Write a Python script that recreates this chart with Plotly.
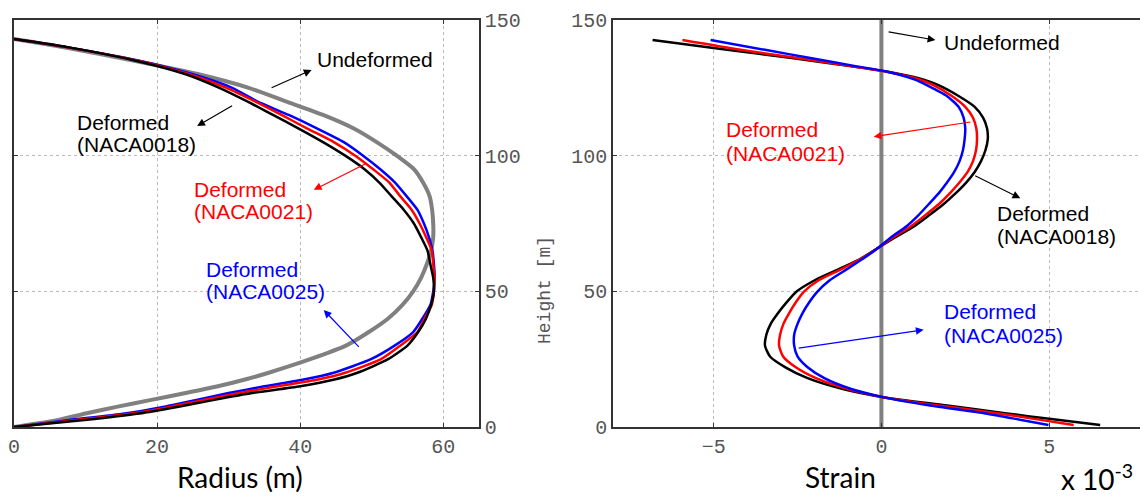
import plotly.graph_objects as go

# ---------------- Left panel: radius vs height ----------------
height_r = [0, 2.5, 5, 7.5, 10, 12.5, 15, 17.5, 20, 25, 30, 35, 40, 45, 50, 55, 60, 65,
            70, 75, 80, 85, 90, 95, 100, 105, 110, 115, 120, 125, 130, 135, 140, 143]
radius_undeformed = [0, 6.0, 10.0, 14.5, 19.2, 24.0, 28.5, 32.3, 35.6, 41.4, 46.4, 49.6, 52.3,
                     54.3, 55.8, 56.9, 57.7, 58.3, 58.6, 58.6, 58.45, 58.1, 57.2, 55.9, 53.5,
                     50.7, 47.5, 43.2, 38.0, 32.8, 25.8, 16.8, 6.8, 0]
radius_naca0018 = [0, 9.5, 17.5, 23.0, 28.0, 33.3, 40.0, 44.8, 48.0, 52.3, 55.0, 56.5, 57.6,
                   58.3, 58.7, 58.6, 58.2, 57.8, 56.9, 55.9, 54.5, 52.8, 51.1, 49.0, 46.3,
                   43.2, 39.8, 36.2, 32.6, 28.7, 24.0, 17.0, 7.5, 0]
radius_naca0021 = [0, 8.5, 16.5, 22.0, 26.5, 31.5, 36.8, 42.5, 46.3, 51.3, 54.0, 56.4, 57.4,
                   58.4, 58.7, 58.8, 58.6, 58.4, 57.6, 56.7, 55.6, 54.0, 52.5, 50.2, 47.7,
                   44.7, 41.0, 37.4, 33.7, 29.7, 24.5, 17.3, 7.3, 0]
radius_naca0025 = [0, 7.5, 15.5, 21.0, 25.5, 30.0, 35.0, 40.5, 44.7, 49.9, 53.2, 55.8, 57.1,
                   58.2, 58.6, 58.8, 58.7, 58.5, 58.0, 57.3, 56.4, 54.9, 53.3, 51.2, 48.8,
                   46.1, 42.4, 38.4, 34.0, 30.5, 25.0, 17.5, 7.3, 0]

# ---------------- Right panel: strain (x 10^-3) vs height ----------------
height_s = [0.7, 3, 5, 8, 11, 14, 18, 22, 26, 30, 34, 38, 42, 46, 50, 54, 58, 62, 66, 70,
            74, 78, 82, 86, 90, 94, 98, 102, 106, 110, 114, 118, 122, 126, 128, 131, 133,
            136, 139, 142.6]
strain_naca0018 = [6.52, 5.0, 3.74, 1.9, 0.05, -1.15, -2.2, -2.86, -3.32, -3.47, -3.43, -3.3,
                   -3.08, -2.82, -2.52, -2.0, -1.3, -0.62, -0.1, 0.42, 0.98, 1.42, 1.84, 2.2,
                   2.52, 2.78, 2.97, 3.1, 3.17, 3.15, 3.03, 2.78, 2.3, 1.7, 1.26, 0.15, -0.94,
                   -2.67, -4.6, -6.82]
strain_naca0021 = [5.73, 4.55, 3.5, 1.65, 0.05, -1.0, -1.95, -2.55, -2.93, -3.05, -3.02, -2.92,
                   -2.75, -2.55, -2.3, -1.88, -1.22, -0.6, -0.1, 0.37, 0.88, 1.3, 1.7, 2.03,
                   2.32, 2.57, 2.73, 2.82, 2.85, 2.83, 2.73, 2.5, 2.1, 1.55, 1.15, 0.12, -0.9,
                   -2.5, -4.2, -5.93]
strain_naca0025 = [4.98, 4.0, 3.1, 1.4, 0.05, -0.9, -1.7, -2.2, -2.5, -2.6, -2.6, -2.5,
                   -2.35, -2.15, -1.9, -1.55, -1.05, -0.55, -0.1, 0.3, 0.75, 1.1, 1.4, 1.7,
                   1.95, 2.17, 2.33, 2.43, 2.48, 2.5, 2.45, 2.3, 1.95, 1.35, 1.0, 0.15, -0.77,
                   -2.12, -3.47, -5.09]
strain_undeformed = [0, 0]
height_undeformed = [0, 150]

radius_ticks = [0, 20, 40, 60]
strain_ticks = [-5, 0, 5]
height_ticks = [0, 50, 100, 150]

BLACK, RED, BLUE, GRAY = "#000000", "#ff0000", "#0000ff", "#808080"


def spline(color, width):
    return dict(color=color, width=width, shape="spline", smoothing=0.6)


fig = go.Figure()
fig.add_trace(go.Scatter(x=radius_undeformed, y=height_r, mode="lines",
                         line=spline(GRAY, 4), xaxis="x", yaxis="y"))
fig.add_trace(go.Scatter(x=radius_naca0025, y=height_r, mode="lines",
                         line=spline(BLUE, 2.5), xaxis="x", yaxis="y"))
fig.add_trace(go.Scatter(x=radius_naca0021, y=height_r, mode="lines",
                         line=spline(RED, 2.5), xaxis="x", yaxis="y"))
fig.add_trace(go.Scatter(x=radius_naca0018, y=height_r, mode="lines",
                         line=spline(BLACK, 2.5), xaxis="x", yaxis="y"))

fig.add_trace(go.Scatter(x=strain_undeformed, y=height_undeformed, mode="lines",
                         line=dict(color=GRAY, width=4), xaxis="x2", yaxis="y2"))
fig.add_trace(go.Scatter(x=strain_naca0018, y=height_s, mode="lines",
                         line=spline(BLACK, 2.5), xaxis="x2", yaxis="y2"))
fig.add_trace(go.Scatter(x=strain_naca0021, y=height_s, mode="lines",
                         line=spline(RED, 2.5), xaxis="x2", yaxis="y2"))
fig.add_trace(go.Scatter(x=strain_naca0025, y=height_s, mode="lines",
                         line=spline(BLUE, 2.5), xaxis="x2", yaxis="y2"))

tick_font = dict(family="Liberation Mono, Courier New, monospace", size=20, color="#555555")
axis_common = dict(showline=True, linecolor="#333333", linewidth=1.5, ticks="inside",
                   ticklen=4, tickcolor="#333333", showgrid=True, gridcolor="#bbbbbb",
                   griddash="dot", gridwidth=1, zeroline=False, tickfont=tick_font,
                   automargin=False, ticklabeloverflow="allow")

# The page body adds an 8 px offset; the figure is sized so that the
# screen position (sx, sy) maps to paper position (sx - 8, sy - 8).
OFF = 8
W, H = 1148 - OFF, 498 - OFF


def px(sx):
    return (sx - OFF) / W


def py(sy):
    return (H - (sy - OFF)) / H


fig.update_layout(
    width=W, height=H, margin=dict(l=0, r=0, t=0, b=0, autoexpand=False),
    paper_bgcolor="white", plot_bgcolor="white", showlegend=False,
    xaxis=dict(domain=[px(14), px(479)], range=[0, 65], tickvals=radius_ticks,
               mirror="ticks", anchor="y", **axis_common),
    yaxis=dict(domain=[py(427), py(20)], range=[0, 150], tickvals=height_ticks,
               side="right", mirror="ticks", anchor="x", **axis_common),
    xaxis2=dict(domain=[px(613), 1.0], range=[-8, 7.946], tickvals=strain_ticks,
                mirror="ticks", anchor="y2", **axis_common),
    yaxis2=dict(domain=[py(427), py(20)], range=[0, 150], tickvals=height_ticks,
                side="left", mirror=False, anchor="x2", **axis_common),
)

ann_font = "Liberation Sans, Arial, sans-serif"


def label(x, y, text, color, xref, yref):
    return dict(x=x, y=y, xref=xref, yref=yref, text=text, showarrow=False,
                xanchor="left", yanchor="middle",
                font=dict(family=ann_font, size=21, color=color))


def arrow(x_head, y_head, x_tail, y_tail, color, xref, yref):
    return dict(x=x_head, y=y_head, ax=x_tail, ay=y_tail, xref=xref, yref=yref,
                axref=xref, ayref=yref, text="", showarrow=True, arrowhead=2,
                arrowsize=1.3, arrowwidth=1.2, arrowcolor=color, standoff=0,
                startstandoff=0)


annotations = [
    # left panel
    label(42.1, 135.6, "Undeformed", BLACK, "x", "y"),
    arrow(41.6, 131.6, 35.8, 124.8, BLACK, "x", "y"),
    label(8.5, 112.2, "Deformed", BLACK, "x", "y"),
    label(8.5, 104.2, "(NACA0018)", BLACK, "x", "y"),
    arrow(25.6, 110.9, 30.7, 118.7, BLACK, "x", "y"),
    label(24.9, 87.5, "Deformed", RED, "x", "y"),
    label(24.9, 79.6, "(NACA0021)", RED, "x", "y"),
    arrow(41.9, 87.4, 49.3, 97.2, RED, "x", "y"),
    label(26.5, 58.2, "Deformed", BLUE, "x", "y"),
    label(26.5, 49.9, "(NACA0025)", BLUE, "x", "y"),
    arrow(43.3, 43.1, 48.4, 29.0, BLUE, "x", "y"),
    # right panel
    label(1.81, 141.8, "Undeformed", BLACK, "x2", "y2"),
    arrow(1.61, 142.6, 0.17, 145.7, BLACK, "x2", "y2"),
    label(-4.69, 109.8, "Deformed", RED, "x2", "y2"),
    label(-4.69, 100.9, "(NACA0021)", RED, "x2", "y2"),
    arrow(-0.23, 107.0, 2.7, 112.5, RED, "x2", "y2"),
    label(3.39, 78.8, "Deformed", BLACK, "x2", "y2"),
    label(3.39, 70.1, "(NACA0018)", BLACK, "x2", "y2"),
    arrow(4.14, 84.3, 2.75, 92.9, BLACK, "x2", "y2"),
    label(1.81, 42.5, "Deformed", BLUE, "x2", "y2"),
    label(1.81, 33.9, "(NACA0025)", BLUE, "x2", "y2"),
    arrow(1.26, 35.8, -2.51, 29.0, BLUE, "x2", "y2"),
    # axis captions
    dict(x=px(545), y=py(290), xref="paper", yref="paper", text="Height [m]",
         textangle=-90, showarrow=False, xanchor="center", yanchor="middle",
         font=dict(family="Liberation Mono, monospace", size=18, color="#555555")),
    dict(x=px(240), y=py(477), xref="paper", yref="paper", text="Radius (m)",
         showarrow=False, xanchor="center", yanchor="middle",
         font=dict(family="Lato, sans-serif", size=28, color="#000000")),
    dict(x=px(840), y=py(477), xref="paper", yref="paper", text="Strain",
         showarrow=False, xanchor="center", yanchor="middle",
         font=dict(family="Lato, sans-serif", size=28, color="#000000")),
    dict(x=px(1097), y=py(477), xref="paper", yref="paper",
         text="x 10<sup>-3</sup>", showarrow=False, xanchor="center", yanchor="middle",
         font=dict(family="Lato, sans-serif", size=28, color="#000000")),
]
fig.update_layout(annotations=annotations)

fig.write_html("out.html")
